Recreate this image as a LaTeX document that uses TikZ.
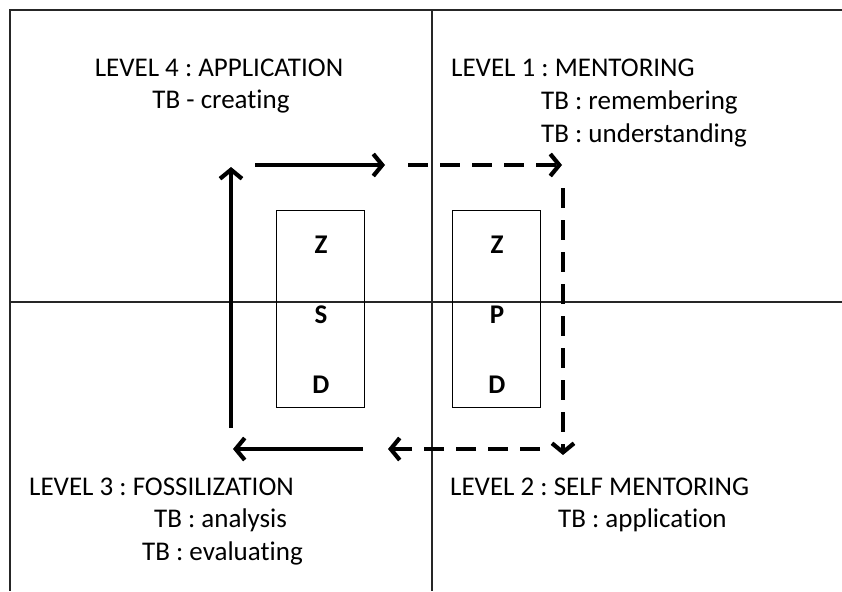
\documentclass[tikz,border=0pt]{standalone}
\usepackage{fontspec}
\setmainfont{Carlito}[Ligatures=NoCommon]
\usetikzlibrary{arrows.meta}
\usetikzlibrary{positioning}
\frenchspacing

\tikzset{
  grid line/.style={line width=1.3pt, black!85},
  flow/.style={line width=4.2pt, -{Straight Barb[length=9pt,width=22pt]}},
  flow dash/.style={flow, dash pattern=on 20pt off 12pt},
  level/.style={inner sep=0pt, font=\fontsize{27}{32}\selectfont},
  zone/.style={draw, line width=1pt, minimum width=88pt, minimum height=197pt, inner sep=0pt},
  letter/.style={inner sep=0pt, font=\fontsize{27}{32}\selectfont\bfseries},
}

\begin{document}
\begin{tikzpicture}[x=1pt,y=-1pt]
        \useasboundingbox (0,0) rectangle (842,591);
        % quadrants
        \draw[grid line] (842,10) -- (10,10) -- (10,591);
        \draw[grid line] (432,10) -- (432,591);
        \draw[grid line] (10,302) -- (842,302);
        % the two zones
        \node[zone] (zsd) at (320,308.5) {};
        \node[zone] (zpd) at (496.5,308.5) {};
        \node[letter] (zsd-z) at (321,245) {Z};
        \node[letter] (zsd-s) at (321,315) {S};
        \node[letter] (zsd-d) at (321,385) {D};
        \node[letter] (zpd-z) at (497,245) {Z};
        \node[letter] (zpd-p) at (497,315) {P};
        \node[letter] (zpd-d) at (497,385) {D};
        % levels
        \node[level, anchor=base] (lv4) at (219,77) {LEVEL 4 : APPLICATION};
        \node[level, anchor=base] (tb4) at (221,109) {TB - creating};
        \node[level, anchor=base west] (lv1) at (451,77) {LEVEL 1 : MENTORING};
        \node[level, anchor=base west] (tb1a) at (541,110) {TB : remembering};
        \node[level, anchor=base west] (tb1b) at (541,142) {TB : understanding};
        \node[level, anchor=base west] (lv3) at (29,495) {LEVEL 3 : FOSSILIZATION};
        \node[level, anchor=base west] (tb3a) at (154,527) {TB : analysis};
        \node[level, anchor=base west] (tb3b) at (142,560) {TB : evaluating};
        \node[level, anchor=base west] (lv2) at (450,495) {LEVEL 2 : SELF MENTORING};
        \node[level, anchor=base west] (tb2) at (558,527) {TB : application};
        % the cycle
        \coordinate (up-a) at (231,428);
        \coordinate (up-b) at (231,167);
        \coordinate (top-a) at (255,165);
        \coordinate (top-b) at (385,165);
        \coordinate (top-c) at (408,165);
        \coordinate (top-d) at (562,165);
        \coordinate (right-a) at (563,188);
        \coordinate (right-b) at (563,455);
        \coordinate (bot-a) at (540,449);
        \coordinate (bot-b) at (388,449);
        \coordinate (bot-c) at (363,449);
        \coordinate (bot-d) at (233,449);
        \draw[flow] (up-a) -- (up-b);
        \draw[flow] (top-a) -- (top-b);
        \draw[flow dash] (top-c) -- (top-d);
        \draw[flow dash] (right-a) -- (right-b);
        \draw[flow dash] (bot-a) -- (bot-b);
        \draw[flow] (bot-c) -- (bot-d);
\end{tikzpicture}
\end{document}
